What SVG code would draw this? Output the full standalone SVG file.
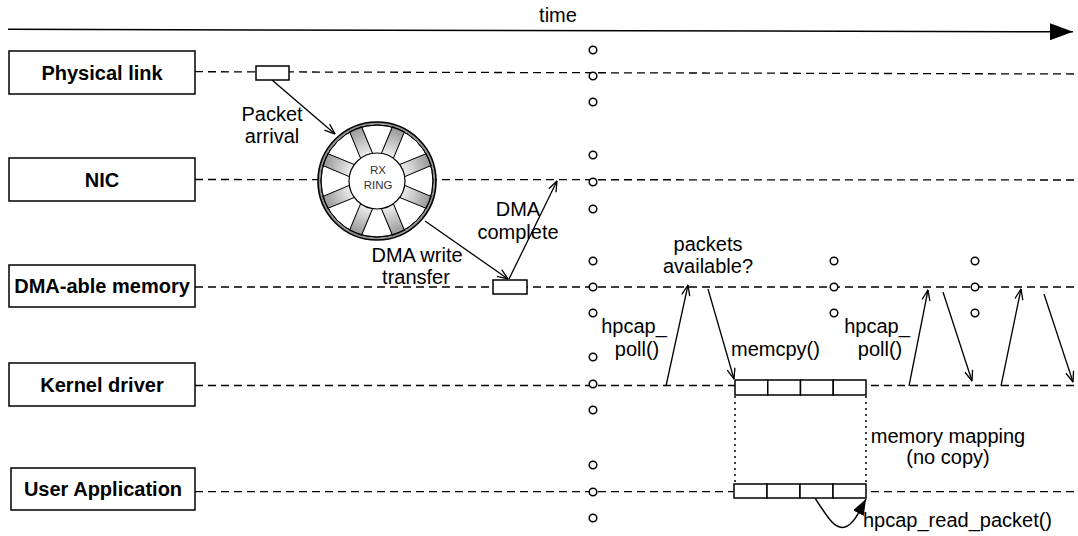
<svg xmlns="http://www.w3.org/2000/svg" width="1078" height="536" viewBox="0 0 1078 536">
  <defs>
    <style>
      text { font-family: "Liberation Sans", Arial, Helvetica, sans-serif; fill: #000; }
      .lbl { font-size: 20px; text-anchor: middle; }
      .lbl-l { font-size: 20px; }
      .node-lbl { font-size: 20px; font-weight: bold; text-anchor: middle; }
      .box { fill: #fff; stroke: #000; stroke-width: 1.5; }
      .lifeline { fill: none; stroke: #000; stroke-width: 1.3; stroke-dasharray: 8 5; }
      .flow { fill: none; stroke: #000; stroke-width: 1.3; marker-end: url(#open-arrow); }
      .mapping { fill: none; stroke: #000; stroke-width: 1.5; stroke-dasharray: 2 4; }
      .tick { fill: #fff; stroke: #000; stroke-width: 1.5; }
      .cell { fill: #fff; stroke: #000; stroke-width: 1.5; }
      .spoke { fill: url(#ring-shade); stroke: #000; stroke-width: 1; }
    </style>
    <marker id="open-arrow" viewBox="0 0 12 10" refX="11.5" refY="5" markerWidth="12" markerHeight="10" orient="auto" markerUnits="userSpaceOnUse">
      <path d="M1,1 L11.5,5 L1,9" fill="none" stroke="#000" stroke-width="1.3"/>
    </marker>
    <marker id="time-head" viewBox="0 0 23 17" refX="23" refY="8.5" markerWidth="23" markerHeight="17" orient="auto" markerUnits="userSpaceOnUse">
      <path d="M0,0 L23,8.5 L0,17 Z" fill="#000"/>
    </marker>
    <marker id="solid-head" viewBox="0 0 16 12" refX="16" refY="6" markerWidth="16" markerHeight="12" orient="auto" markerUnits="userSpaceOnUse">
      <path d="M0,0 L16,6 L0,12 Z" fill="#000"/>
    </marker>
    <radialGradient id="ring-shade" gradientUnits="userSpaceOnUse" cx="0" cy="0" r="60">
      <stop offset="0.45" stop-color="#f0f0f0"/>
      <stop offset="1" stop-color="#8c8c8c"/>
    </radialGradient>
    <rect id="spoke" class="spoke" x="26" y="-6.5" width="30" height="13"/>
  </defs>

  <rect width="1078" height="536" fill="#fff"/>

  <!-- time axis -->
  <g id="time-axis">
    <line x1="8" y1="29.3" x2="1073" y2="31.8" stroke="#000" stroke-width="1.5" marker-end="url(#time-head)"/>
    <text class="lbl" x="558" y="22">time</text>
  </g>

  <!-- lifelines, messages and labels -->
  <g id="connectors">
    <line class="lifeline" x1="195" y1="71.7" x2="1078" y2="74"/>
    <line class="lifeline" x1="195" y1="179.5" x2="1078" y2="180"/>
    <line class="lifeline" x1="195" y1="287" x2="1078" y2="287"/>
    <line class="lifeline" x1="195" y1="385.5" x2="1078" y2="385.5"/>
    <line class="lifeline" x1="195" y1="491.7" x2="1078" y2="491.7"/>

    <!-- packet path into the ring and out to memory -->
    <line class="flow" x1="272" y1="80" x2="335" y2="134"/>
    <line class="flow" x1="425" y1="221" x2="508" y2="279"/>
    <line class="flow" x1="509" y1="279" x2="557" y2="181"/>

    <!-- polling cycles -->
    <line class="flow" x1="666" y1="386" x2="688" y2="285"/>
    <line class="flow" x1="708" y1="289" x2="734" y2="379"/>
    <line class="flow" x1="909" y1="386" x2="928" y2="290"/>
    <line class="flow" x1="943" y1="292" x2="972" y2="381"/>
    <line class="flow" x1="1001" y1="386" x2="1021" y2="289"/>
    <line class="flow" x1="1044" y1="294" x2="1073" y2="382"/>

    <!-- shared mapping between kernel and user buffers -->
    <line class="mapping" x1="735" y1="396" x2="735" y2="484"/>
    <line class="mapping" x1="866" y1="396" x2="866" y2="484"/>

    <!-- read loop on the user buffer -->
    <path d="M815,498 C828,518 835,530 845,527 C854,524 859,512 866,499" fill="none" stroke="#000" stroke-width="1.5" marker-end="url(#solid-head)"/>

    <text class="lbl" x="272" y="121">Packet</text>
    <text class="lbl" x="272" y="143">arrival</text>
    <text class="lbl" x="417" y="262">DMA write</text>
    <text class="lbl" x="416" y="284">transfer</text>
    <text class="lbl" x="518" y="216">DMA</text>
    <text class="lbl" x="518" y="239">complete</text>
    <text class="lbl" x="708" y="251">packets</text>
    <text class="lbl" x="708" y="273">available?</text>
    <text class="lbl" x="634" y="333">hpcap_</text>
    <text class="lbl" x="637" y="356">poll()</text>
    <text class="lbl-l" x="731" y="356">memcpy()</text>
    <text class="lbl" x="877" y="333">hpcap_</text>
    <text class="lbl" x="880" y="356">poll()</text>
    <text class="lbl" x="948" y="443">memory mapping</text>
    <text class="lbl" x="948" y="464">(no copy)</text>
    <text class="lbl-l" x="863" y="527">hpcap_read_packet()</text>
  </g>

  <!-- sync points along the timeline -->
  <g id="sync-points">
    <circle class="tick" cx="593" cy="50" r="3.8"/>
    <circle class="tick" cx="593" cy="76" r="3.8"/>
    <circle class="tick" cx="593" cy="102" r="3.8"/>
    <circle class="tick" cx="593" cy="155" r="3.8"/>
    <circle class="tick" cx="593" cy="182" r="3.8"/>
    <circle class="tick" cx="593" cy="209" r="3.8"/>
    <circle class="tick" cx="593" cy="261" r="3.8"/>
    <circle class="tick" cx="593" cy="287" r="3.8"/>
    <circle class="tick" cx="593" cy="313" r="3.8"/>
    <circle class="tick" cx="593" cy="357" r="3.8"/>
    <circle class="tick" cx="593" cy="384" r="3.8"/>
    <circle class="tick" cx="593" cy="410" r="3.8"/>
    <circle class="tick" cx="593" cy="465" r="3.8"/>
    <circle class="tick" cx="593" cy="492" r="3.8"/>
    <circle class="tick" cx="593" cy="518" r="3.8"/>
    <circle class="tick" cx="834" cy="261" r="3.8"/>
    <circle class="tick" cx="834" cy="287" r="3.8"/>
    <circle class="tick" cx="834" cy="313" r="3.8"/>
    <circle class="tick" cx="975" cy="261" r="3.8"/>
    <circle class="tick" cx="975" cy="287" r="3.8"/>
    <circle class="tick" cx="975" cy="313" r="3.8"/>
  </g>

  <!-- lifeline heads -->
  <g id="physical-link">
    <rect class="box" x="9" y="51" width="186" height="43"/>
    <text class="node-lbl" x="102" y="80">Physical link</text>
  </g>
  <g id="nic">
    <rect class="box" x="9" y="158" width="186" height="43"/>
    <text class="node-lbl" x="102" y="187">NIC</text>
  </g>
  <g id="dma-memory">
    <rect class="box" x="9" y="265" width="186" height="42"/>
    <text class="node-lbl" x="102" y="293">DMA-able memory</text>
  </g>
  <g id="kernel-driver">
    <rect class="box" x="9" y="363" width="186" height="43"/>
    <text class="node-lbl" x="102" y="392">Kernel driver</text>
  </g>
  <g id="user-application">
    <rect class="box" x="11" y="468" width="184" height="42"/>
    <text class="node-lbl" x="103" y="496">User Application</text>
  </g>

  <!-- packet on the wire and in host memory -->
  <g id="packet-wire">
    <rect class="box" x="256" y="66" width="33" height="14" stroke-width="1.3"/>
  </g>
  <g id="packet-dma">
    <rect class="box" x="493" y="280" width="34" height="14" stroke-width="1.3"/>
  </g>

  <!-- receive ring -->
  <g id="rx-ring" transform="translate(377,181)">
    <circle r="59" fill="url(#ring-shade)" stroke="#000" stroke-width="1.6"/>
    <circle r="56" fill="#fff" stroke="#000" stroke-width="1"/>
    <use href="#spoke" transform="rotate(22.5)"/>
    <use href="#spoke" transform="rotate(67.5)"/>
    <use href="#spoke" transform="rotate(112.5)"/>
    <use href="#spoke" transform="rotate(157.5)"/>
    <use href="#spoke" transform="rotate(202.5)"/>
    <use href="#spoke" transform="rotate(247.5)"/>
    <use href="#spoke" transform="rotate(292.5)"/>
    <use href="#spoke" transform="rotate(337.5)"/>
    <circle r="56" fill="none" stroke="#000" stroke-width="1"/>
    <circle r="28" fill="#fff" stroke="#000" stroke-width="1.2"/>
    <text x="1" y="-7" font-size="11.5" text-anchor="middle" style="fill:#333">RX</text>
    <text x="1" y="8" font-size="11.5" text-anchor="middle" style="fill:#333">RING</text>
  </g>

  <!-- kernel buffer -->
  <g id="kernel-buffer">
    <rect class="cell" x="735" y="380" width="32.75" height="15"/>
    <rect class="cell" x="767.75" y="380" width="32.75" height="15"/>
    <rect class="cell" x="800.5" y="380" width="32.75" height="15"/>
    <rect class="cell" x="833.25" y="380" width="32.75" height="15"/>
  </g>

  <!-- user-space view of the same buffer -->
  <g id="user-buffer">
    <rect class="cell" x="734" y="484" width="33" height="14"/>
    <rect class="cell" x="767" y="484" width="33" height="14"/>
    <rect class="cell" x="800" y="484" width="33" height="14"/>
    <rect class="cell" x="833" y="484" width="33" height="14"/>
  </g>
</svg>
